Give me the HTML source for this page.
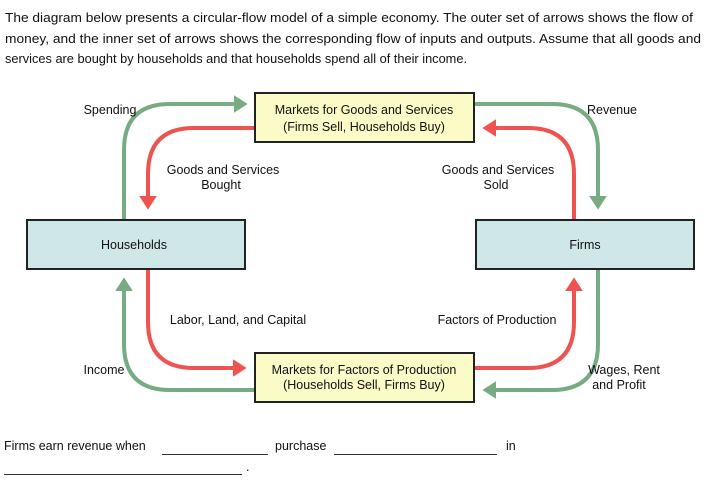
<!DOCTYPE html>
<html><head><meta charset="utf-8"><style>
html,body{margin:0;padding:0;background:#fff;}
svg{display:block;font-family:"Liberation Sans",sans-serif;}
</style></head><body>
<svg width="718" height="489" viewBox="0 0 718 489" xmlns="http://www.w3.org/2000/svg">
<defs>
<marker id="ag" markerWidth="5" markerHeight="5" refX="2" refY="2.2" orient="auto" markerUnits="strokeWidth"><path d="M0,0 L3.4,2.2 L0,4.4 z" fill="#77ab82"/></marker>
<marker id="ar" markerWidth="5" markerHeight="5" refX="2" refY="2.2" orient="auto" markerUnits="strokeWidth"><path d="M0,0 L3.4,2.2 L0,4.4 z" fill="#ee5350"/></marker>
</defs>
<g font-size="12.5" fill="#111">
<text x="5" y="22" textLength="688" lengthAdjust="spacingAndGlyphs">The diagram below presents a circular-flow model of a simple economy. The outer set of arrows shows the flow of</text>
<text x="5" y="43" textLength="696" lengthAdjust="spacingAndGlyphs">money, and the inner set of arrows shows the corresponding flow of inputs and outputs. Assume that all goods and</text>
<text x="5" y="63" textLength="462" lengthAdjust="spacingAndGlyphs">services are bought by households and that households spend all of their income.</text>
</g>
<g fill="none" stroke-width="4">
<path d="M124,219 V150 Q124,104 170,104 H242" stroke="#77ab82" marker-end="url(#ag)"/>
<path d="M474,104 H552 Q598,104 598,150 V204" stroke="#77ab82" marker-end="url(#ag)"/>
<path d="M598,269 V344 Q598,390 552,390 H488" stroke="#77ab82" marker-end="url(#ag)"/>
<path d="M254,390 H170 Q124,390 124,344 V283" stroke="#77ab82" marker-end="url(#ag)"/>
<path d="M254,128 H194 Q148,128 148,174 V204" stroke="#ee5350" marker-end="url(#ar)"/>
<path d="M574,219 V174 Q574,128 528,128 H488" stroke="#ee5350" marker-end="url(#ar)"/>
<path d="M148,269 V322 Q148,368 194,368 H241" stroke="#ee5350" marker-end="url(#ar)"/>
<path d="M474,368 H528 Q574,368 574,322 V283" stroke="#ee5350" marker-end="url(#ar)"/>
</g>
<g stroke="#222" stroke-width="2">
<rect x="255" y="93" width="219" height="49" fill="#fbfbc8"/>
<rect x="255" y="353" width="219" height="49" fill="#fbfbc8"/>
<rect x="27" y="220" width="218" height="49" fill="#cfe7e6"/>
<rect x="476" y="220" width="218" height="49" fill="#cfe7e6"/>
</g>
<g font-size="12.5" fill="#111" text-anchor="middle">
<text x="364" y="114">Markets for Goods and Services</text>
<text x="364" y="131">(Firms Sell, Households Buy)</text>
<text x="364" y="374">Markets for Factors of Production</text>
<text x="364" y="389">(Households Sell, Firms Buy)</text>
<text x="134" y="249">Households</text>
<text x="585" y="249">Firms</text>
<text x="110" y="114">Spending</text>
<text x="612" y="114">Revenue</text>
<text x="223" y="174">Goods and Services</text>
<text x="221" y="189">Bought</text>
<text x="498" y="174">Goods and Services</text>
<text x="496" y="189">Sold</text>
<text x="238" y="324">Labor, Land, and Capital</text>
<text x="497" y="324">Factors of Production</text>
<text x="104" y="374">Income</text>
<text x="624" y="374">Wages, Rent</text>
<text x="619" y="389">and Profit</text>
</g>
<g font-size="12.5" fill="#111">
<text x="4" y="450">Firms earn revenue when</text>
<text x="275" y="450">purchase</text>
<text x="506" y="450">in</text>
<text x="246" y="471">.</text>
</g>
<g stroke="#333" stroke-width="1">
<line x1="162" y1="454.5" x2="268" y2="454.5"/>
<line x1="334" y1="454.5" x2="497" y2="454.5"/>
<line x1="4" y1="474.5" x2="242" y2="474.5"/>
</g>
</svg>
</body></html>
